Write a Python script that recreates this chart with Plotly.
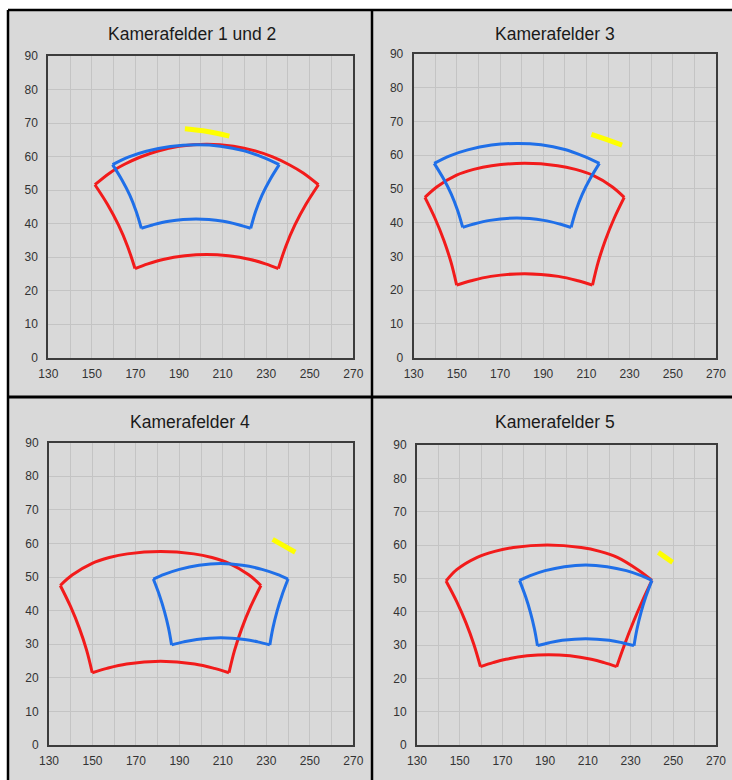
import plotly.graph_objects as go

# ---------------- data ----------------
x_tick_vals = [130, 150, 170, 190, 210, 230, 250, 270]
y_tick_vals = [0, 10, 20, 30, 40, 50, 60, 70, 80, 90]
panel_titles = ["Kamerafelder 1 und 2", "Kamerafelder 3", "Kamerafelder 4", "Kamerafelder 5"]

# Each field: top arc, right side, bottom arc, left side (separated by None)
# Panel 1 - red field
p1_red_x = [151.4, 158.4, 165, 172, 180, 190, 202.7, 215, 225, 233, 240.8, 247, 254.0, None,
            254.0, 248.2, 243.2, 239.0, 235.6, None,
            235.6, 229.7, 222.7, 212.7, 202.7, 192.7, 182.7, 175.7, 169.8, None,
            169.8, 166.4, 162.2, 157.2, 151.4]
p1_red_y = [51.6, 55.2, 57.7, 59.8, 61.6, 63.05, 63.7, 63.1, 61.7, 59.9, 57.5, 55.1, 51.6, None,
            51.6, 45.7, 39.6, 33.2, 26.6, None,
            26.6, 28.0, 29.3, 30.4, 30.8, 30.4, 29.3, 28.0, 26.6, None,
            26.6, 33.2, 39.6, 45.7, 51.6]
# Panel 1 - blue field
p1_blue_x = [159.5, 167, 175, 186, 197.8, 209, 220, 228, 236.0, None,
             236.0, 231.75, 228.1, 225.15, 222.9, None,
             222.9, 217.7, 210.3, 197.8, 185.3, 177.8, 172.7, None,
             172.7, 170.35, 167.4, 163.75, 159.5]
p1_blue_y = [57.6, 59.9, 61.6, 63.0, 63.5, 63.1, 61.7, 59.9, 57.6, None,
             57.6, 53.1, 48.5, 43.6, 38.6, None,
             38.6, 39.6, 40.7, 41.4, 40.7, 39.6, 38.6, None,
             38.6, 43.6, 48.5, 53.1, 57.6]
p1_yellow_x = [192.7, 203, 213.1]
p1_yellow_y = [68.3, 67.5, 66.1]

# Panel 2 - red field (the same field appears in panel 3)
p2_red_x = [135.2, 140.65, 149.85, 157.75, 166.05, 181.35, 196.65, 204.95, 212.85, 222.05, 227.5, None,
            227.5, 222.8, 218.75, 215.4, 212.8, None,
            212.8, 206.1, 197.0, 181.35, 165.7, 156.6, 149.9, None,
            149.9, 147.3, 143.95, 139.9, 135.2]
p2_red_y = [47.5, 50.6, 54.1, 55.8, 56.9, 57.6, 56.9, 55.8, 54.1, 50.6, 47.5, None,
            47.5, 41.25, 34.8, 28.25, 21.5, None,
            21.5, 22.8, 24.1, 24.9, 24.1, 22.8, 21.5, None,
            21.5, 28.25, 34.8, 41.25, 47.5]
# Panel 2 - blue field
p2_blue_x = [139.5, 147, 155, 166, 177.8, 189, 200, 208, 216.0, None,
             216.0, 211.75, 208.1, 205.15, 202.9, None,
             202.9, 197.7, 190.3, 177.8, 165.3, 157.8, 152.7, None,
             152.7, 150.35, 147.4, 143.75, 139.5]
p2_blue_y = [57.6, 59.9, 61.6, 63.0, 63.5, 63.1, 61.7, 59.9, 57.6, None,
             57.6, 53.1, 48.5, 43.6, 38.6, None,
             38.6, 39.6, 40.7, 41.4, 40.7, 39.6, 38.6, None,
             38.6, 43.6, 48.5, 53.1, 57.6]
p2_yellow_x = [212.3, 219.5, 226.5]
p2_yellow_y = [66.2, 64.6, 63.0]

# Panels 3 and 4 - blue field
p3_blue_x = [178.0, 183, 190, 199, 209, 219, 228, 235, 240.0, None,
             240.0, 237.2, 234.9, 233.0, 231.6, None,
             231.6, 226, 220, 209, 198, 192, 186.4, None,
             186.4, 185.0, 183.1, 180.8, 178.0]
p3_blue_y = [49.4, 50.8, 52.3, 53.5, 54.0, 53.5, 52.3, 50.8, 49.4, None,
             49.4, 44.6, 39.8, 34.8, 29.8, None,
             29.8, 30.7, 31.4, 31.9, 31.4, 30.7, 29.8, None,
             29.8, 34.8, 39.8, 44.6, 49.4]
p3_yellow_x = [232.9, 243.3]
p3_yellow_y = [61.2, 57.4]

# Panel 4 - red field
p4_red_x = [143.6, 148.6, 158.2, 166.4, 175.1, 191.0, 206.9, 215.6, 223.8, 233.4, 240.0, None,
            240.0, 235.4, 231.1, 227.15, 223.5, None,
            223.5, 217.6, 211.6, 201.6, 191.6, 181.6, 171.6, 165.6, 159.7, None,
            159.7, 156.6, 152.9, 148.6, 143.6]
p4_red_y = [49.2, 52.6, 56.3, 58.1, 59.25, 60.0, 59.25, 58.1, 56.3, 52.6, 49.4, None,
            49.4, 43.05, 36.6, 30.1, 23.5, None,
            23.5, 24.7, 25.7, 26.75, 27.1, 26.75, 25.7, 24.7, 23.5, None,
            23.5, 30.2, 36.7, 43.0, 49.2]
p4_yellow_x = [243.0, 249.7]
p4_yellow_y = [57.8, 54.8]

panels = [
    (p1_red_x, p1_red_y, p1_blue_x, p1_blue_y, p1_yellow_x, p1_yellow_y),
    (p2_red_x, p2_red_y, p2_blue_x, p2_blue_y, p2_yellow_x, p2_yellow_y),
    (p2_red_x, p2_red_y, p3_blue_x, p3_blue_y, p3_yellow_x, p3_yellow_y),
    (p4_red_x, p4_red_y, p3_blue_x, p3_blue_y, p4_yellow_x, p4_yellow_y),
]

# ---------------- styling / layout ----------------
W, H = 732, 780
RED = "#f21b1b"
BLUE = "#1f6fe8"
YELLOW = "#ffff00"
PANEL_BG = "#d9d9d9"
GRID = "#c4c4c4"
FONT = "Liberation Sans, Arial, sans-serif"

# plot-area pixel boxes: (left, right, top, bottom)
boxes = [
    (48.3, 353.3, 56.0, 357.7),
    (413.7, 716.0, 54.0, 357.7),
    (49.0, 353.3, 442.7, 745.0),
    (417.0, 716.0, 445.0, 745.0),
]
title_pos = [(191.5, 34), (555, 34), (190, 422), (555, 422)]

fig = go.Figure()
layout = dict(
    width=W, height=H,
    margin=dict(l=0, r=0, t=0, b=0, pad=0, autoexpand=False),
    paper_bgcolor="white",
    plot_bgcolor=PANEL_BG,
    showlegend=False,
    font=dict(family=FONT, size=12, color="#333333"),
)

for i, (rx, ry, bx, by, yx, yy) in enumerate(panels):
    n = "" if i == 0 else str(i + 1)
    xa, ya = "x" + n, "y" + n
    fig.add_trace(go.Scatter(x=rx, y=ry, mode="lines", xaxis=xa, yaxis=ya,
                             line=dict(color=RED, width=3, shape="spline"),
                             connectgaps=False, hoverinfo="skip"))
    fig.add_trace(go.Scatter(x=bx, y=by, mode="lines", xaxis=xa, yaxis=ya,
                             line=dict(color=BLUE, width=3, shape="spline"),
                             connectgaps=False, hoverinfo="skip"))
    fig.add_trace(go.Scatter(x=yx, y=yy, mode="lines", xaxis=xa, yaxis=ya,
                             line=dict(color=YELLOW, width=5, shape="spline"),
                             hoverinfo="skip"))
    l, r, t, b = boxes[i]
    layout["xaxis" + n] = dict(
        domain=[l / W, r / W], range=[130, 270], anchor=ya,
        tickmode="array", tickvals=x_tick_vals, ticks="",
        showgrid=True, gridcolor=GRID, gridwidth=1,
        minor=dict(dtick=10, tick0=130, showgrid=True, gridcolor=GRID, gridwidth=1),
        zeroline=False, showline=True, mirror=True, linecolor="#3c3c3c", linewidth=2,
        tickfont=dict(family=FONT, size=12, color="#333333"), ticklabelstandoff=4,
        automargin=False, fixedrange=True,
    )
    layout["yaxis" + n] = dict(
        domain=[1 - b / H, 1 - t / H], range=[0, 90], anchor=xa,
        tickmode="array", tickvals=y_tick_vals, ticks="",
        showgrid=True, gridcolor=GRID, gridwidth=1,
        zeroline=False, showline=True, mirror=True, linecolor="#3c3c3c", linewidth=2,
        tickfont=dict(family=FONT, size=12, color="#333333"), ticklabelstandoff=6,
        automargin=False, fixedrange=True,
    )

fig.update_layout(**layout)

# panel backgrounds and borders (left / top frame and dividers only)
shapes = [
    dict(type="rect", xref="paper", yref="paper", x0=8 / W, x1=1.0, y0=0.0, y1=1 - 10 / H,
         fillcolor=PANEL_BG, line=dict(width=0), layer="below"),
    dict(type="line", xref="paper", yref="paper", x0=8 / W, x1=8 / W, y0=0.0, y1=1 - 10 / H,
         line=dict(color="black", width=2.5), layer="below"),
    dict(type="line", xref="paper", yref="paper", x0=8 / W, x1=1.0, y0=1 - 10 / H, y1=1 - 10 / H,
         line=dict(color="black", width=2.5), layer="below"),
    dict(type="line", xref="paper", yref="paper", x0=372 / W, x1=372 / W, y0=0.0, y1=1 - 10 / H,
         line=dict(color="black", width=2.5), layer="below"),
    dict(type="line", xref="paper", yref="paper", x0=8 / W, x1=1.0, y0=1 - 397 / H, y1=1 - 397 / H,
         line=dict(color="black", width=3), layer="below"),
]
fig.update_layout(shapes=shapes)

for (tx, ty), txt in zip(title_pos, panel_titles):
    fig.add_annotation(text=txt, x=tx / W, y=1 - ty / H, xref="paper", yref="paper",
                       xanchor="center", yanchor="middle", showarrow=False,
                       font=dict(family=FONT, size=17.5, color="#1a1a1a"))

fig.write_html("out.html",
               config={"displayModeBar": False, "staticPlot": True},
               post_script="document.body.style.margin='0';document.body.style.overflow='hidden';")
